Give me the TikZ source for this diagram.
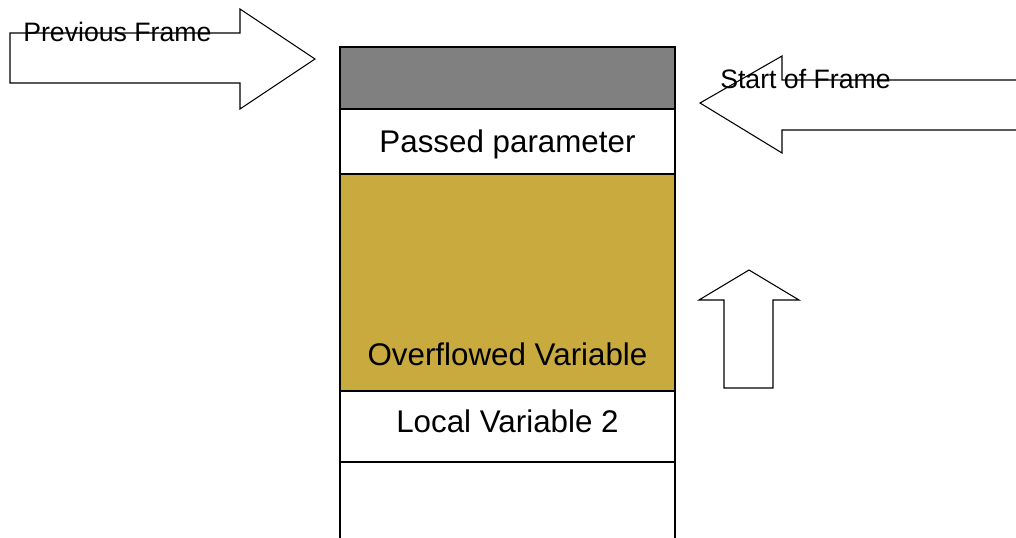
\documentclass[tikz,border=0pt]{standalone}
\usepackage{fontspec}
\setmainfont{Liberation Sans}
\usepackage{tikz}

\definecolor{topgray}{RGB}{128,128,128}
\definecolor{overgold}{RGB}{200,170,62}

\tikzset{
  cell/.style={draw=black, line width=1.1pt},
  outline/.style={draw=black, line width=0.8pt, line join=miter},
  celltext/.style={font=\fontsize{23.5}{28}\selectfont, inner sep=0pt, anchor=base},
  arrowtext/.style={font=\fontsize{20}{24}\selectfont, inner sep=0pt, anchor=base west}
}

\begin{document}
\begin{tikzpicture}[x=0.75pt, y=-0.75pt]
\useasboundingbox (0,0) rectangle (1016,538);
% stack
\fill[topgray] (340,47) rectangle (675,109);
\fill[overgold] (340,174) rectangle (675,391);
\draw[cell] (340,540) -- (340,47) -- (675,47) -- (675,540);
\draw[cell] (340,109) -- (675,109);
\draw[cell] (340,174) -- (675,174);
\draw[cell] (340,391) -- (675,391);
\draw[cell] (340,462) -- (675,462);

\node[celltext] (param) at (507.5,153) {Passed parameter};
\node[celltext] (overflow) at (507.5,365) {Overflowed Variable};
\node[celltext] (local) at (507.5,432) {Local Variable 2};

% arrows
\draw[outline] (10,33) -- (240,33) -- (240,9) -- (315,59) -- (240,109) -- (240,83) -- (10,83) -- cycle;
\draw[outline] (1020,80) -- (782,80) -- (782,56) -- (700,103) -- (782,153) -- (782,130) -- (1020,130);
\draw[outline] (724,388) -- (724,300) -- (699,300) -- (749,270) -- (799,300) -- (773,300) -- (773,388) -- cycle;

\node[arrowtext] (prev) at (23,42) {Previous Frame};
\node[arrowtext] (start) at (720,89) {Start of Frame};
\end{tikzpicture}
\end{document}
